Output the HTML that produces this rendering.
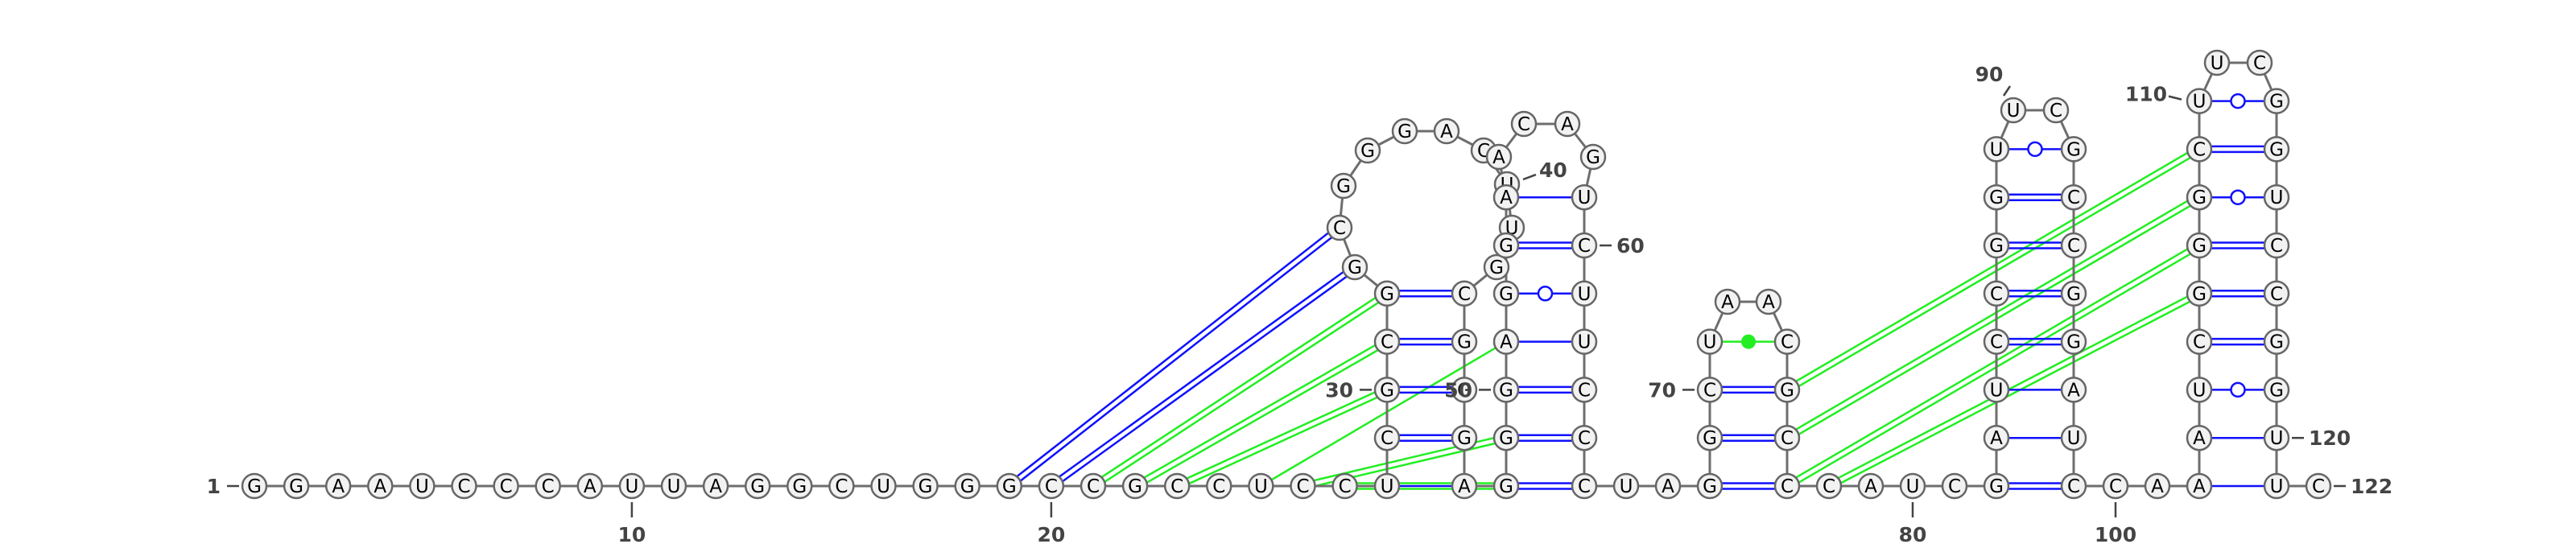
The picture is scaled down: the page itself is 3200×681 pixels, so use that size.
<!DOCTYPE html>
<html><head><meta charset="utf-8"><title>RNA secondary structure</title>
<style>html,body{margin:0;padding:0;background:#fff;width:3200px;height:681px;overflow:hidden}svg{display:block}</style>
</head><body>
<svg id="chart" xmlns="http://www.w3.org/2000/svg" width="3200" height="681" viewBox="0 0 3200 681">
<g id="pairs"></g>
<g id="backbone"></g>
<g id="nodes"></g>
<g id="labels"></g>
</svg>
<script>
// ---- data ----
const sequence = "GGAAUCCCAU" + "UAGGCUGGGC" + "CGCCUCCUCG" + "CGGCGGGACU" + "UGCGGGAGGG" +
                 "AGGAACAGUC" + "UUCCCUAGGC" + "UAACGCCCAU" + "CGAUCCGGUU" + "CGCCGGAUCC" +
                 "AAAUCGGGCU" + "UCGGUCCGGU" + "UC";
const wcPairs = [[29,46],[30,45],[31,44],[32,43],[48,65],[49,64],[50,63],[53,60],[68,77],[69,76],[70,75],
                 [82,99],[85,96],[86,95],[87,94],[88,93],[105,118],[106,117],[107,116],[109,114],[19,34],[20,33]];
const auPairs = [[28,47],[51,62],[54,59],[83,98],[84,97],[102,121],[103,120]];
const guPairs = [[52,61],[89,92],[104,119],[108,115],[110,113]];
const ncPairs = [[71,74]];
const altPairs = [[21,32],[22,31],[23,30],[26,49],[27,48],[75,109],[76,108],[77,107],[78,106]];
const altSingle = [[25,51],[65,66]];
const tickNums = [10,20,80,100];
const sideLabels = [[1,'left'],[30,'left'],[50,'left'],[60,'right'],[70,'left'],[120,'right'],[122,'right']];

// ---- layout ----
const ROW0 = 604, DY = 59.8;
const rowY = k => ROW0 - DY*k;
const baseX = i => 316 + (i-1)*52.1;
const loopPos = {33:[1683,332],34:[1664,283],35:[1669,231],36:[1699,187],37:[1745,163],38:[1797,163],
  39:[1843,187],40:[1872,229],41:[1878,283],42:[1859,332],
  55:[1862,195],56:[1893,154],57:[1947,154],58:[1979,195],
  72:[2146,375],73:[2197,375],90:[2501,137],91:[2554,137],111:[2754,78],112:[2807,78]};
function pos(i){
  if (loopPos[i]) return loopPos[i];
  if (i<=27) return [baseX(i), ROW0];
  if (i<=32) return [1723, rowY(i-28)];
  if (i>=43 && i<=47) return [1819, rowY(47-i)];
  if (i>=48 && i<=54) return [1871, rowY(i-48)];
  if (i>=59 && i<=65) return [1968, rowY(65-i)];
  if (i===66) return [2020, ROW0];
  if (i===67) return [2072, ROW0];
  if (i>=68 && i<=71) return [2124, rowY(i-68)];
  if (i>=74 && i<=77) return [2220, rowY(77-i)];
  if (i>=78 && i<=81) return [2272+(i-78)*52, ROW0];
  if (i>=82 && i<=89) return [2480, rowY(i-82)];
  if (i>=92 && i<=99) return [2576, rowY(99-i)];
  if (i===100) return [2628, ROW0];
  if (i===101) return [2680, ROW0];
  if (i>=102 && i<=110) return [2732, rowY(i-102)];
  if (i>=113 && i<=121) return [2828, rowY(121-i)];
  return [2880, ROW0];
}
const NS = "http://www.w3.org/2000/svg";
function mk(tag, attrs, parent){ const e=document.createElementNS(NS,tag); for(const k in attrs) e.setAttribute(k,attrs[k]); parent.appendChild(e); return e; }
const gP = document.getElementById('pairs'), gB = document.getElementById('backbone'),
      gN = document.getElementById('nodes'), gL = document.getElementById('labels');
const BLUE = '#1010ff', GREEN = '#22ee22';

function dbl(i,j,color,off,name){
  const [x1,y1]=pos(i),[x2,y2]=pos(j); const dx=x2-x1, dy=y2-y1, L=Math.hypot(dx,dy);
  const nx=-dy/L*off, ny=dx/L*off;
  for (const s of [1,-1]){
    const l = mk('line',{x1:x1+s*nx,y1:y1+s*ny,x2:x2+s*nx,y2:y2+s*ny,stroke:color,'stroke-width':2.5},gP);
    
    
  }
}
function sgl(i,j,color,name){
  const [x1,y1]=pos(i),[x2,y2]=pos(j);
  const l = mk('line',{x1,y1,x2,y2,stroke:color,'stroke-width':2.5},gP);
  
  
}
altPairs.forEach(([i,j])=>dbl(i,j,GREEN,3.5,'alt-pair-line'));
altSingle.forEach(([i,j])=>sgl(i,j,GREEN,'alt-pair-line'));
wcPairs.forEach(([i,j])=>dbl(i,j,BLUE,3.5,'wc-pair-line'));
auPairs.forEach(([i,j])=>sgl(i,j,BLUE,'au-pair-line'));
guPairs.forEach(([i,j])=>{
  sgl(i,j,BLUE,'gu-pair-line');
  const [x1,y1]=pos(i),[x2,y2]=pos(j);
  const c = mk('circle',{cx:(x1+x2)/2,cy:(y1+y2)/2,r:8.5,fill:'#fff',stroke:BLUE,'stroke-width':2.5},gP);
  
  
});
ncPairs.forEach(([i,j])=>{
  sgl(i,j,GREEN,'noncanonical-pair-line');
  const [x1,y1]=pos(i),[x2,y2]=pos(j);
  const c = mk('ellipse',{cx:(x1+x2)/2,cy:(y1+y2)/2,rx:9,ry:9,fill:GREEN},gP);
  
  
});
for (let i=1;i<sequence.length;i++){
  const [x1,y1]=pos(i),[x2,y2]=pos(i+1);
  const l = mk('line',{x1,y1,x2,y2,stroke:'#6e6e6e','stroke-width':3},gB);
  
  
}
for (let i=1;i<=sequence.length;i++){
  const [x,y]=pos(i);
  const g = mk('g',{},gN);
  
  
  mk('circle',{cx:x,cy:y,r:15,fill:'#f2f2f2',stroke:'#666','stroke-width':2.5},g);
  const t = mk('text',{x:x,y:y+8,'text-anchor':'middle','font-family':'DejaVu Sans, Liberation Sans, sans-serif','font-size':23,fill:'#000'},g);
  t.textContent = sequence[i-1];
}
const LF = 'DejaVu Sans, Liberation Sans, sans-serif';
function lab(x,y,txt,anchor){
  const t = mk('text',{x,y,'text-anchor':anchor,'font-family':LF,'font-size':25,'font-weight':'bold',fill:'#444'},gL);
  t.textContent = txt;
  
  
}
function dash(x1,y1,x2,y2){
  const l = mk('line',{x1,y1,x2,y2,stroke:'#444','stroke-width':2.5},gL);
  
  
}
tickNums.forEach(n=>{ const [x]=pos(n); dash(x,624,x,643); lab(x,673,String(n),'middle'); });
sideLabels.forEach(([n,side])=>{
  const [x,y]=pos(n);
  if (side==='left'){ dash(x-34,y,x-19,y); lab(x-42,y+9,String(n),'end'); }
  else { dash(x+19,y,x+34,y); lab(x+40,y+9,String(n),'start'); }
});
(function(){ const [x,y]=pos(40); dash(x+20,y-6,x+36,y-12); lab(x+40,y-9,'40','start'); })();
(function(){ const [x,y]=pos(90); dash(x-12,y-18,x-4,y-30); lab(x-30,y-36,'90','middle'); })();
(function(){ const [x,y]=pos(110); dash(x-38,y-6,x-22,y-2); lab(x-40,y,'110','end'); })();
</script>
</body></html>
